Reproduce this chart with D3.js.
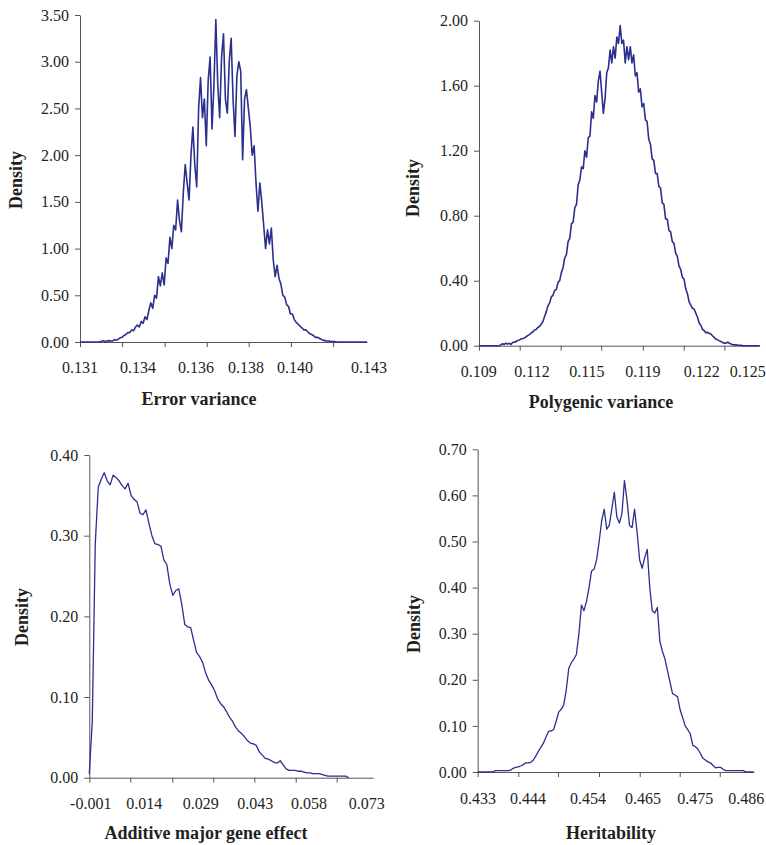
<!DOCTYPE html>
<html>
<head>
<meta charset="utf-8">
<script src="https://cdn.jsdelivr.net/npm/d3@7"></script>
<style>
  body { margin: 0; background: #fff; }
  svg text { font-family: "Liberation Serif", "Times New Roman", serif; fill: #231f20; }
  .tick text { font-size: 16px; }
  .axis path, .axis line { stroke: #555; }
  .title { font-size: 18px; font-weight: bold; }
</style>
</head>
<body>
<div class="chart"></div>
<script>
// posterior densities, sampled on regular bins (start + i * step)
const errStart = 0.131, errStep = 0.00008
const errDensity = [0,0,0,0,0,0,0,0,0,0,0,0.005,0.015,0.005,0.01,0.015,0.01,0.01,0.025,0.02,
  0.03,0.045,0.05,0.07,0.08,0.1,0.1,0.13,0.12,0.16,0.18,0.16,0.22,0.2,0.27,0.24,0.34,0.42,0.36,0.5,
  0.47,0.7,0.6,0.74,0.61,0.9,0.84,1.12,1.0,1.25,1.2,1.52,1.3,1.18,1.6,1.9,1.7,1.52,2.0,2.3,
  1.9,1.66,2.5,2.83,2.4,2.6,2.1,2.8,3.05,2.28,2.75,3.45,2.75,2.4,3.05,3.3,2.6,2.45,3.0,3.25,
  2.6,2.2,2.85,3.0,2.9,1.95,2.6,2.7,2.5,2.3,2.0,2.1,1.7,1.4,1.7,1.5,1.25,1.0,1.2,1.05,
  1.22,0.88,0.7,0.82,0.68,0.62,0.5,0.48,0.4,0.38,0.3,0.3,0.24,0.21,0.19,0.17,0.15,0.13,0.13,0.11,
  0.09,0.08,0.07,0.05,0.05,0.04,0.03,0.02,0.015,0.01,0.01,0.005,0.005,0.005,0,0,0,0,0,0,
  0,0,0,0,0,0,0,0,0,0,0]

const polyStart = 0.109, polyStep = 0.0001
const polyDensity = [0,0,0,0,0,0,0,0,0,0,0,0,0,0.005,0.012,0.008,0.016,0.01,0.015,0.008,
  0.02,0.022,0.025,0.032,0.034,0.042,0.044,0.046,0.055,0.062,0.068,0.078,0.084,0.097,0.1,0.112,0.118,0.132,0.148,0.18,
  0.208,0.245,0.262,0.3,0.31,0.34,0.345,0.39,0.4,0.45,0.48,0.54,0.56,0.64,0.66,0.75,0.76,0.85,0.87,0.99,
  1.02,1.1,1.09,1.2,1.16,1.28,1.29,1.44,1.4,1.54,1.5,1.63,1.69,1.56,1.43,1.52,1.68,1.71,1.82,1.74,
  1.84,1.77,1.9,1.86,1.97,1.86,1.88,1.74,1.84,1.76,1.84,1.74,1.79,1.66,1.68,1.56,1.58,1.47,1.49,1.39,
  1.38,1.27,1.24,1.15,1.14,1.06,1.06,0.98,0.97,0.88,0.87,0.78,0.78,0.71,0.7,0.64,0.63,0.57,0.55,0.49,
  0.47,0.42,0.41,0.35,0.32,0.27,0.25,0.23,0.225,0.2,0.175,0.14,0.125,0.1,0.092,0.08,0.082,0.075,0.072,0.06,
  0.05,0.04,0.036,0.03,0.025,0.02,0.015,0.016,0.022,0.015,0.01,0.005,0.005,0.005,0.003,0.003,0.002,0,0,0,
  0,0,0,0,0,0,0,0]

const addStart = -0.001, addStep = 0.0008
const addDensity = [0.005,0.07,0.29,0.36,0.37,0.378,0.368,0.363,0.375,0.372,
  0.368,0.362,0.358,0.365,0.35,0.345,0.342,0.328,0.326,0.332,0.315,0.3,0.29,0.289,0.287,0.27,0.264,0.24,0.226,0.232,
  0.234,0.215,0.19,0.187,0.186,0.17,0.155,0.15,0.143,0.13,0.121,0.115,0.108,0.098,0.092,0.088,0.082,0.075,0.07,0.063,
  0.058,0.055,0.051,0.046,0.043,0.042,0.04,0.032,0.028,0.024,0.023,0.021,0.019,0.018,0.021,0.016,0.011,0.009,0.009,0.009,
  0.008,0.008,0.007,0.006,0.006,0.005,0.005,0.005,0.004,0.003,0.002,0.002,0.002,0.002,0.002,0.002,0.002,0]

const herStart = 0.433, herStep = 0.0005
const herDensity = [0,0,0,0,0,0,0,0.003,0.003,0.003,0.003,0.003,0.003,0.004,0.008,0.01,0.011,0.013,0.016,0.02,
  0.02,0.021,0.026,0.035,0.045,0.054,0.063,0.076,0.088,0.089,0.092,0.11,0.13,0.136,0.145,0.178,0.225,0.237,0.245,0.255,
  0.3,0.362,0.35,0.37,0.4,0.436,0.44,0.46,0.5,0.545,0.57,0.527,0.535,0.57,0.607,0.553,0.54,0.56,0.632,0.59,
  0.535,0.53,0.57,0.52,0.46,0.442,0.465,0.483,0.4,0.35,0.345,0.357,0.283,0.262,0.245,0.22,0.195,0.17,0.167,0.163,
  0.135,0.118,0.1,0.092,0.083,0.058,0.055,0.05,0.04,0.03,0.026,0.022,0.02,0.014,0.009,0.01,0.01,0.006,0.003,0.003,
  0.003,0.003,0.003,0.003,0.003,0.003,0,0,0,0]

// axis ticks and labels (label texts and where they sit on the value axis)
const errYTicks = [0,0.5,1,1.5,2,2.5,3,3.5]
const errXTicks = [0.131,0.13276,0.13454,0.1363,0.13805,0.13982,0.14158]
const errLabels = ["0.131","0.134","0.136","0.138","0.140","0.143"]
const errLabelAt = [0.131,0.13343,0.13585,0.13794,0.13999,0.14308]

const polyYTicks = [0,0.4,0.8,1.2,1.6,2.0]
const polyXTicks = [0.109,0.11142,0.11386,0.11627,0.11875,0.12118,0.1236]
const polyLabels = ["0.109","0.112","0.115","0.119","0.122","0.125"]
const polyLabelAt = [0.10898,0.11215,0.11542,0.11875,0.12225,0.12499]

const addYTicks = [0,0.1,0.2,0.3,0.4]
const addXTicks = [-0.001,0.01,0.02126,0.03226,0.04326,0.05437,0.06536]
const addLabels = ["-0.001","0.014","0.029","0.043","0.058","0.073"]
const addLabelAt = [-0.00062,0.01375,0.02888,0.04353,0.05793,0.07341]

const herYTicks = [0,0.1,0.2,0.3,0.4,0.5,0.6,0.7]
const herXTicks = [0.433,0.44102,0.44887,0.45697,0.46502,0.47292,0.48083]
const herLabels = ["0.433","0.444","0.454","0.465","0.475","0.486"]
const herLabelAt = [0.43306,0.44294,0.4548,0.46567,0.476,0.48608]

const panels = [
  {start: errStart, step: errStep, density: errDensity, xDomain: [0.131,0.143], yMax: 3.5,
   yTicks: errYTicks, xTicks: errXTicks, labels: errLabels, labelAt: errLabelAt, title: "Error variance",
   left: 80, right: 367, top: 15, bottom: 342, labelY: 373, titleX: 199, titleY: 405, yTitleX: 22, yTitleY: 180, width: 1.6},
  {start: polyStart, step: polyStep, density: polyDensity, xDomain: [0.109,0.1257], yMax: 2.0,
   yTicks: polyYTicks, xTicks: polyXTicks, labels: polyLabels, labelAt: polyLabelAt, title: "Polygenic variance",
   left: 479, right: 759.7, top: 20.7, bottom: 345.7, labelY: 376.5, titleX: 601, titleY: 408, yTitleX: 419, yTitleY: 188, width: 1.6},
  {start: addStart, step: addStep, density: addDensity, xDomain: [-0.001,0.0751], yMax: 0.4,
   yTicks: addYTicks, xTicks: addXTicks, labels: addLabels, labelAt: addLabelAt, title: "Additive major gene effect",
   left: 89.3, right: 373, top: 455, bottom: 777.7, labelY: 809, titleX: 206, titleY: 839, yTitleX: 28, yTitleY: 617, width: 1.3},
  {start: herStart, step: herStep, density: herDensity, xDomain: [0.433,0.4876], yMax: 0.7,
   yTicks: herYTicks, xTicks: herXTicks, labels: herLabels, labelAt: herLabelAt, title: "Heritability",
   left: 477.7, right: 754, top: 449.3, bottom: 772, labelY: 804, titleX: 611, titleY: 839, yTitleX: 420, yTitleY: 624, width: 1.3}
]

const svg = d3.select(".chart").append("svg").attr("width",766).attr("height",845)
const fmt = d3.format(".2f")

panels.forEach(p => {
  const x = d3.scaleLinear().domain(p.xDomain).range([p.left, p.right])
  const y = d3.scaleLinear().domain([0, p.yMax]).range([p.bottom, p.top])
  const pts = p.density.map((d, i) => ({x: p.start + i * p.step, y: d}))

  // y axis
  svg.append("g").attr("class","axis").attr("transform",`translate(${p.left},0)`)
     .call(d3.axisLeft(y).tickValues(p.yTicks).tickFormat(fmt).tickSize(5).tickPadding(6).tickSizeOuter(0))
  // x axis: tick marks only, labels drawn separately
  svg.append("g").attr("class","axis").attr("transform",`translate(0,${p.bottom})`)
     .call(d3.axisBottom(x).tickValues(p.xTicks).tickFormat("").tickSize(5).tickSizeOuter(0))
  svg.selectAll(".axis .domain").attr("stroke","#555")

  svg.append("g").selectAll("text").data(p.labels).enter().append("text")
     .attr("x", (d, i) => x(p.labelAt[i])).attr("y", p.labelY)
     .attr("text-anchor","middle").style("font-size","16px").text(d => d)

  svg.append("text").attr("class","title").attr("x", p.titleX).attr("y", p.titleY)
     .attr("text-anchor","middle").text(p.title)
  svg.append("text").attr("class","title").attr("text-anchor","middle")
     .attr("transform", `translate(${p.yTitleX},${p.yTitleY}) rotate(-90)`).text("Density")

  svg.append("path").datum(pts).attr("fill","none").attr("stroke","#2b2f8e")
     .attr("stroke-width", p.width).attr("stroke-linejoin","round")
     .attr("d", d3.line().x(d => x(d.x)).y(d => y(d.y)))
})
</script>
</body>
</html>
